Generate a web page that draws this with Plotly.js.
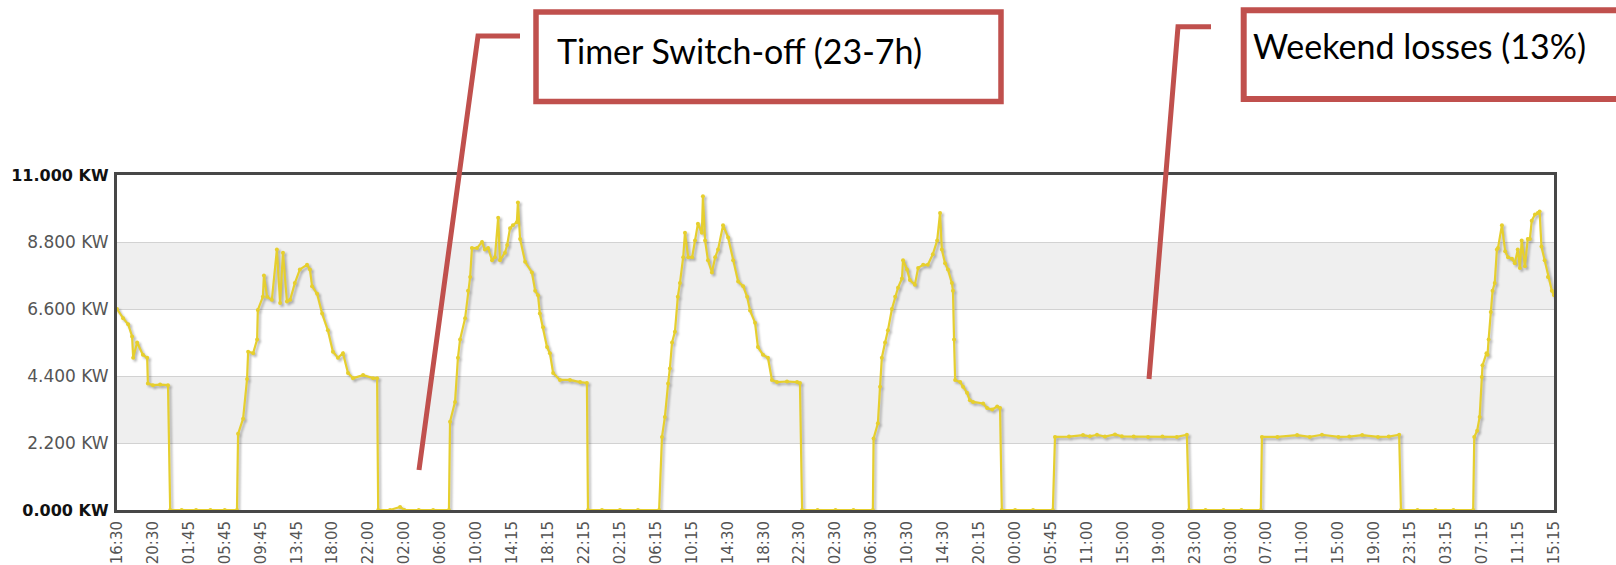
<!DOCTYPE html>
<html>
<head>
<meta charset="utf-8">
<script src="https://cdn.plot.ly/plotly-3.0.1.min.js"></script>
<style>
  html, body { margin: 0; padding: 0; background: #ffffff; }
  #chart { width: 1616px; height: 565px; }
</style>
</head>
<body>
<div id="chart"></div>
<script>
// ---- Data ----
const tickLabels = ["16:30","20:30","01:45","05:45","09:45","13:45","18:00","22:00","02:00","06:00",
  "10:00","14:15","18:15","22:15","02:15","06:15","10:15","14:30","18:30","22:30",
  "02:30","06:30","10:30","14:30","20:15","00:00","05:45","11:00","15:00","19:00",
  "23:00","03:00","07:00","11:00","15:00","19:00","23:15","03:15","07:15","11:15","15:15"];

// x position of each sample, in units of the evenly spaced time labels
const sampleX = [
  0.00,0.17,0.31,0.42,0.45,0.56,0.72,0.84,0.86,1.00,1.20,1.42,1.48,1.8,2.2,2.6,3.0,3.34,
  3.37,3.51,3.62,3.65,3.79,3.90,3.92,4.06,4.09,4.18,4.31,4.45,4.54,4.62,4.73,4.82,4.95,5.09,5.29,5.37,5.43,5.57,5.71,5.87,6.01,6.15,6.29,6.43,6.57,6.85,7.13,7.24,7.27,7.6,7.88,8.0,8.4,8.8,9.24,
  9.27,9.41,9.49,9.55,9.69,9.77,9.83,9.88,10.02,10.16,10.24,10.33,10.44,10.52,10.61,10.66,10.80,10.86,10.94,11.02,11.13,11.16,11.22,11.36,11.55,11.64,11.72,11.77,11.86,11.97,12.05,12.14,12.33,12.61,12.89,13.08,13.11,13.5,14.0,14.5,15.09,
  15.17,15.25,15.34,15.39,15.45,15.53,15.61,15.67,15.76,15.81,15.90,16.01,16.09,16.17,16.28,16.31,16.37,16.45,16.56,16.65,16.73,16.87,17.01,17.15,17.29,17.43,17.54,17.62,17.76,17.84,17.98,18.12,18.23,18.37,18.65,18.93,19.01,19.07,19.5,20.0,20.5,21.04,
  21.06,21.18,21.24,21.29,21.38,21.46,21.57,21.66,21.74,21.85,21.88,21.99,22.07,22.21,22.30,22.44,22.57,22.71,22.83,22.91,22.96,23.05,23.13,23.24,23.27,23.30,23.33,23.47,23.55,23.66,23.74,23.83,24.11,24.22,24.36,24.50,24.58,24.63,25.0,25.5,26.05,
  26.11,26.5,26.89,27.08,27.28,27.5,27.78,27.97,28.3,28.7,29.1,29.5,29.78,29.84,30.3,30.8,31.3,31.84,
  31.87,32.3,32.85,33.2,33.54,34.0,34.3,34.66,35.1,35.4,35.69,35.74,36.2,36.7,37.2,37.75,
  37.78,37.86,37.93,37.99,38.01,38.12,38.15,38.18,38.24,38.29,38.35,38.41,38.44,38.55,38.64,38.72,38.83,38.91,38.99,39.05,39.10,39.19,39.27,39.33,39.38,39.47,39.55,39.60,39.65,39.74,39.83,39.94,40.00
];

// power in kW
const powerKW = [
  6.6,6.3,6.1,5.7,5.0,5.5,5.1,5.0,4.15,4.1,4.12,4.1,0,0,0,0,0,0,
  2.5,3.0,4.3,5.2,5.15,5.6,6.57,7.0,7.7,7.0,6.9,8.55,6.8,8.45,6.85,6.9,7.45,7.9,8.05,7.9,7.35,7.1,6.45,5.9,5.2,5.0,5.15,4.5,4.33,4.43,4.33,4.33,0,0,0.1,0,0,0,0,
  2.9,3.55,5.0,5.6,6.3,7.2,7.65,8.6,8.6,8.8,8.55,8.6,8.2,8.3,9.6,8.2,8.45,8.7,9.25,9.35,9.45,10.1,8.9,8.15,7.8,7.2,7.05,6.45,6.0,5.35,5.15,4.5,4.27,4.27,4.2,4.17,0,0,0,0,0,
  2.4,3.05,4.15,4.65,5.5,5.85,7.0,7.45,8.3,9.1,8.3,8.3,8.85,9.4,9.1,10.3,8.85,8.2,7.8,8.3,8.55,9.35,8.95,8.2,7.5,7.35,7.0,6.55,6.15,5.35,5.1,5.0,4.27,4.2,4.22,4.2,4.17,0,0,0,0,0,
  2.35,2.85,4.05,5.0,5.5,5.9,6.6,7.0,7.3,7.6,8.2,7.9,7.55,7.4,7.95,8.05,8.05,8.4,8.85,9.75,8.55,8.1,7.9,7.45,7.2,5.6,4.27,4.2,4.05,3.85,3.6,3.55,3.5,3.35,3.3,3.4,3.35,0,0,0,0,
  2.4,2.41,2.46,2.42,2.47,2.41,2.48,2.42,2.41,2.4,2.41,2.4,2.47,0,0,0,0,0,
  2.4,2.4,2.46,2.4,2.47,2.4,2.41,2.46,2.4,2.41,2.47,0,0,0,0,0,
  2.4,2.6,3.05,4.37,4.75,5.15,5.1,5.6,6.5,7.2,7.45,8.55,8.6,9.35,8.5,8.3,8.25,8.1,8.55,7.95,8.85,8.0,8.9,8.9,9.5,9.7,9.75,9.8,8.65,8.2,7.65,7.2,7.05
];

const yTicks = [0, 2.2, 4.4, 6.6, 8.8, 11];
const yTickText = ["0.000 KW","2.200 KW","4.400 KW","6.600 KW","8.800 KW","11.000 KW"];
const bandRanges = [[2.2, 4.4], [6.6, 8.8]];
const note1 = "Timer Switch-off (23-7h)";
const note2 = "Weekend losses (13%)";

// ---- Layout geometry (pixels) ----
const W = 1616, H = 565;
const M = { l: 117, r: 62, t: 175, b: 55 };
const PW = W - M.l - M.r, PH = H - M.t - M.b;
const px = x => (x - M.l) / PW;          // pixel -> paper x
const py = y => (H - M.b - y) / PH;      // pixel -> paper y

const RED = "#C0504D";

const shapes = [];
bandRanges.forEach(b => shapes.push({
  type: "rect", xref: "paper", yref: "y", x0: 0, x1: 1, y0: b[0], y1: b[1],
  fillcolor: "#efefef", line: { width: 0 }, layer: "below"
}));
// annotation boxes
shapes.push({ type: "rect", xref: "paper", yref: "paper",
  x0: px(536), x1: px(1001), y0: py(101.5), y1: py(12),
  line: { color: RED, width: 5.5 }, fillcolor: "rgba(0,0,0,0)" });
shapes.push({ type: "rect", xref: "paper", yref: "paper",
  x0: px(1243.7), x1: px(1650), y0: py(99), y1: py(10.3),
  line: { color: RED, width: 6 }, fillcolor: "rgba(0,0,0,0)" });
// leader lines
shapes.push({ type: "path", xref: "paper", yref: "paper",
  path: `M ${px(520)},${py(36)} L ${px(478)},${py(36)} L ${px(419)},${py(470)}`,
  line: { color: RED, width: 5 } });
shapes.push({ type: "path", xref: "paper", yref: "paper",
  path: `M ${px(1211)},${py(26.8)} L ${px(1178)},${py(26.8)} L ${px(1149)},${py(379)}`,
  line: { color: RED, width: 5 } });

const yText = yTickText.map((t, i) =>
  (i === 0 || i === yTickText.length - 1)
    ? `<span style="font-weight:bold;fill:#111;font-size:16px">${t}</span>`
    : t);

const trace = {
  x: sampleX, y: powerKW, type: "scatter", mode: "lines+markers",
  line: { color: "#e6cf2e", width: 2.2 },
  marker: { color: "#e6cf2e", size: 4 },
  hoverinfo: "skip", showlegend: false
};

const layout = {
  width: W, height: H,
  margin: M,
  paper_bgcolor: "#ffffff", plot_bgcolor: "#ffffff",
  showlegend: false,
  xaxis: {
    range: [0, 40], fixedrange: true,
    tickmode: "array", tickvals: tickLabels.map((_, i) => i), ticktext: tickLabels,
    tickangle: -90, ticks: "", showgrid: false, zeroline: false,
    showline: true, mirror: true, linecolor: "#474747", linewidth: 3,
    tickfont: { family: "DejaVu Sans", size: 15, color: "#555555" },
    ticklabelstandoff: 2
  },
  yaxis: {
    range: [0, 11], fixedrange: true,
    tickmode: "array", tickvals: yTicks, ticktext: yText,
    ticks: "", showgrid: true, gridcolor: "#d2d2d2", gridwidth: 1, zeroline: false,
    showline: true, mirror: true, linecolor: "#474747", linewidth: 3,
    tickfont: { family: "DejaVu Sans", size: 17, color: "#555555" },
    ticklabelstandoff: 2
  },
  shapes: shapes,
  annotations: [
    { xref: "paper", yref: "paper", x: px(555), y: py(51), xanchor: "left", yanchor: "middle",
      text: note1, showarrow: false, font: { family: "Lato", size: 34, color: "#000000" } },
    { xref: "paper", yref: "paper", x: px(1251), y: py(46), xanchor: "left", yanchor: "middle",
      text: note2, showarrow: false, font: { family: "Lato", size: 34, color: "#000000" } }
  ]
};

Plotly.newPlot("chart", [trace], layout, { staticPlot: true, displayModeBar: false }).then(() => {
  document.querySelectorAll(".scatterlayer .trace").forEach(g => {
    g.style.filter = "drop-shadow(2px 2px 1px rgba(0,0,0,0.28))";
  });
});
</script>
</body>
</html>
